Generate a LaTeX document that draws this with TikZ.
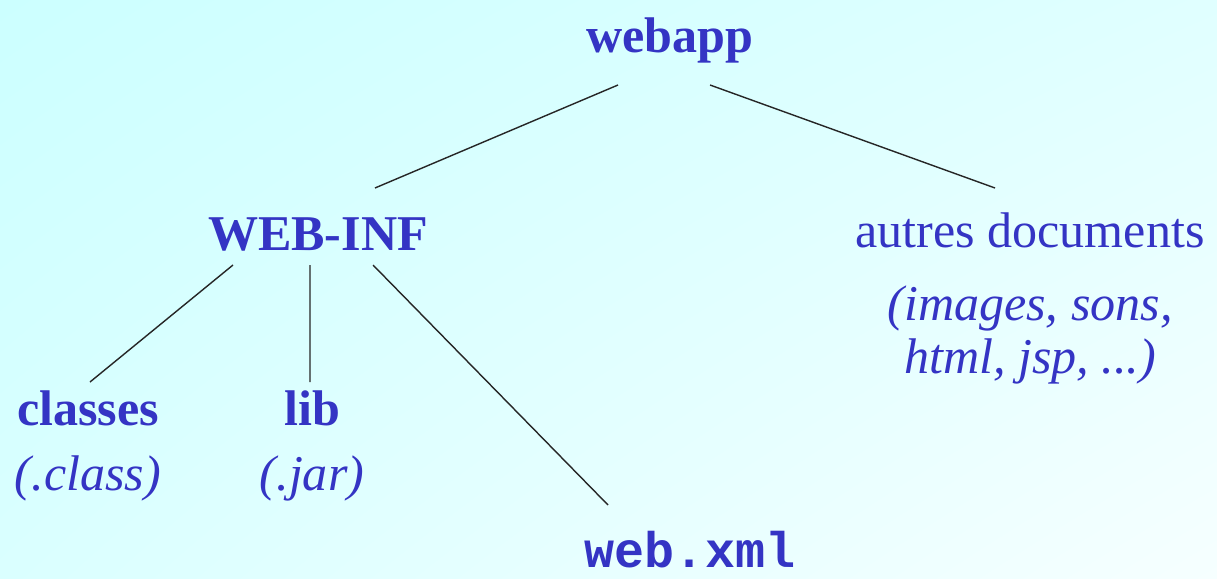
\documentclass[tikz,border=0pt]{standalone}
\usepackage{fontspec}
\setmainfont{Liberation Serif}
\setmonofont{Liberation Mono}
\usepackage{tikz}
\usetikzlibrary{shadings}
\definecolor{dirblue}{RGB}{52,52,196}
\definecolor{bgtl}{RGB}{204,255,255}
\definecolor{bgtr}{RGB}{224,255,255}
\definecolor{bgbl}{RGB}{218,255,255}
\definecolor{bgbr}{RGB}{246,255,255}
\tikzset{
	dir/.style      = {text = dirblue, inner sep = 0pt, font = \bfseries\fontsize{28.5}{34}\selectfont},
	doc/.style      = {text = dirblue, inner sep = 0pt, font = \fontsize{28.5}{34}\selectfont},
	ext/.style      = {text = dirblue, inner sep = 0pt, align = center,
		font = \itshape\fontsize{28.5}{30}\selectfont},
	file/.style     = {text = dirblue, inner sep = 0pt, font = \ttfamily\bfseries\fontsize{28.5}{34}\selectfont},
	branch/.style   = {draw = black!85, line width = 0.8pt}
}
\newcommand{\webinf}{WEB-INF}
\newcommand{\webxml}{web.xml}

\begin{document}
\begin{tikzpicture}[node distance=1.4cm]
% background
\shade[upper left = bgtl, upper right = bgtr, lower left = bgbl, lower right = bgbr]
(0,0) rectangle (24.34,-11.58);
\useasboundingbox (0,0) rectangle (24.34,-11.58);

\draw
% Drawing the tree
node at (13.4,-0.8) [dir] (webapp) {webapp}
node at (6.36,-4.68) [dir] (webinf) {\webinf}
node at (20.6,-4.6) [doc] (autres) {autres documents}
node at (20.6,-6.7) [ext] (autresext) {(images, sons,\\html, jsp, ...)}
node at (1.76,-8.16) [dir] (classes) {classes} node[below of = classes, ext] (classesext) {(.class)}
node at (6.24,-8.16) [dir] (lib) {lib} node[below of = lib, ext] (libext) {(.jar)}
node at (13.8,-11.0) [file] (webxml) {\webxml};

\draw[branch]([shift={(-1.04,-0.9)}]webapp.center) -- ([shift={(1.14,0.92)}]webinf.center);
\draw[branch]([shift={(0.8,-0.9)}]webapp.center) -- ([shift={(-0.7,0.84)}]autres.center);
\draw[branch]([shift={(-1.7,-0.62)}]webinf.center) -- ([shift={(0.04,0.52)}]classes.center);
\draw[branch]([shift={(-0.16,-0.62)}]webinf.center) -- ([shift={(-0.04,0.52)}]lib.center);
\draw[branch]([shift={(1.1,-0.62)}]webinf.center) -- ([shift={(-1.64,0.9)}]webxml.center);
\end{tikzpicture}
\end{document}
